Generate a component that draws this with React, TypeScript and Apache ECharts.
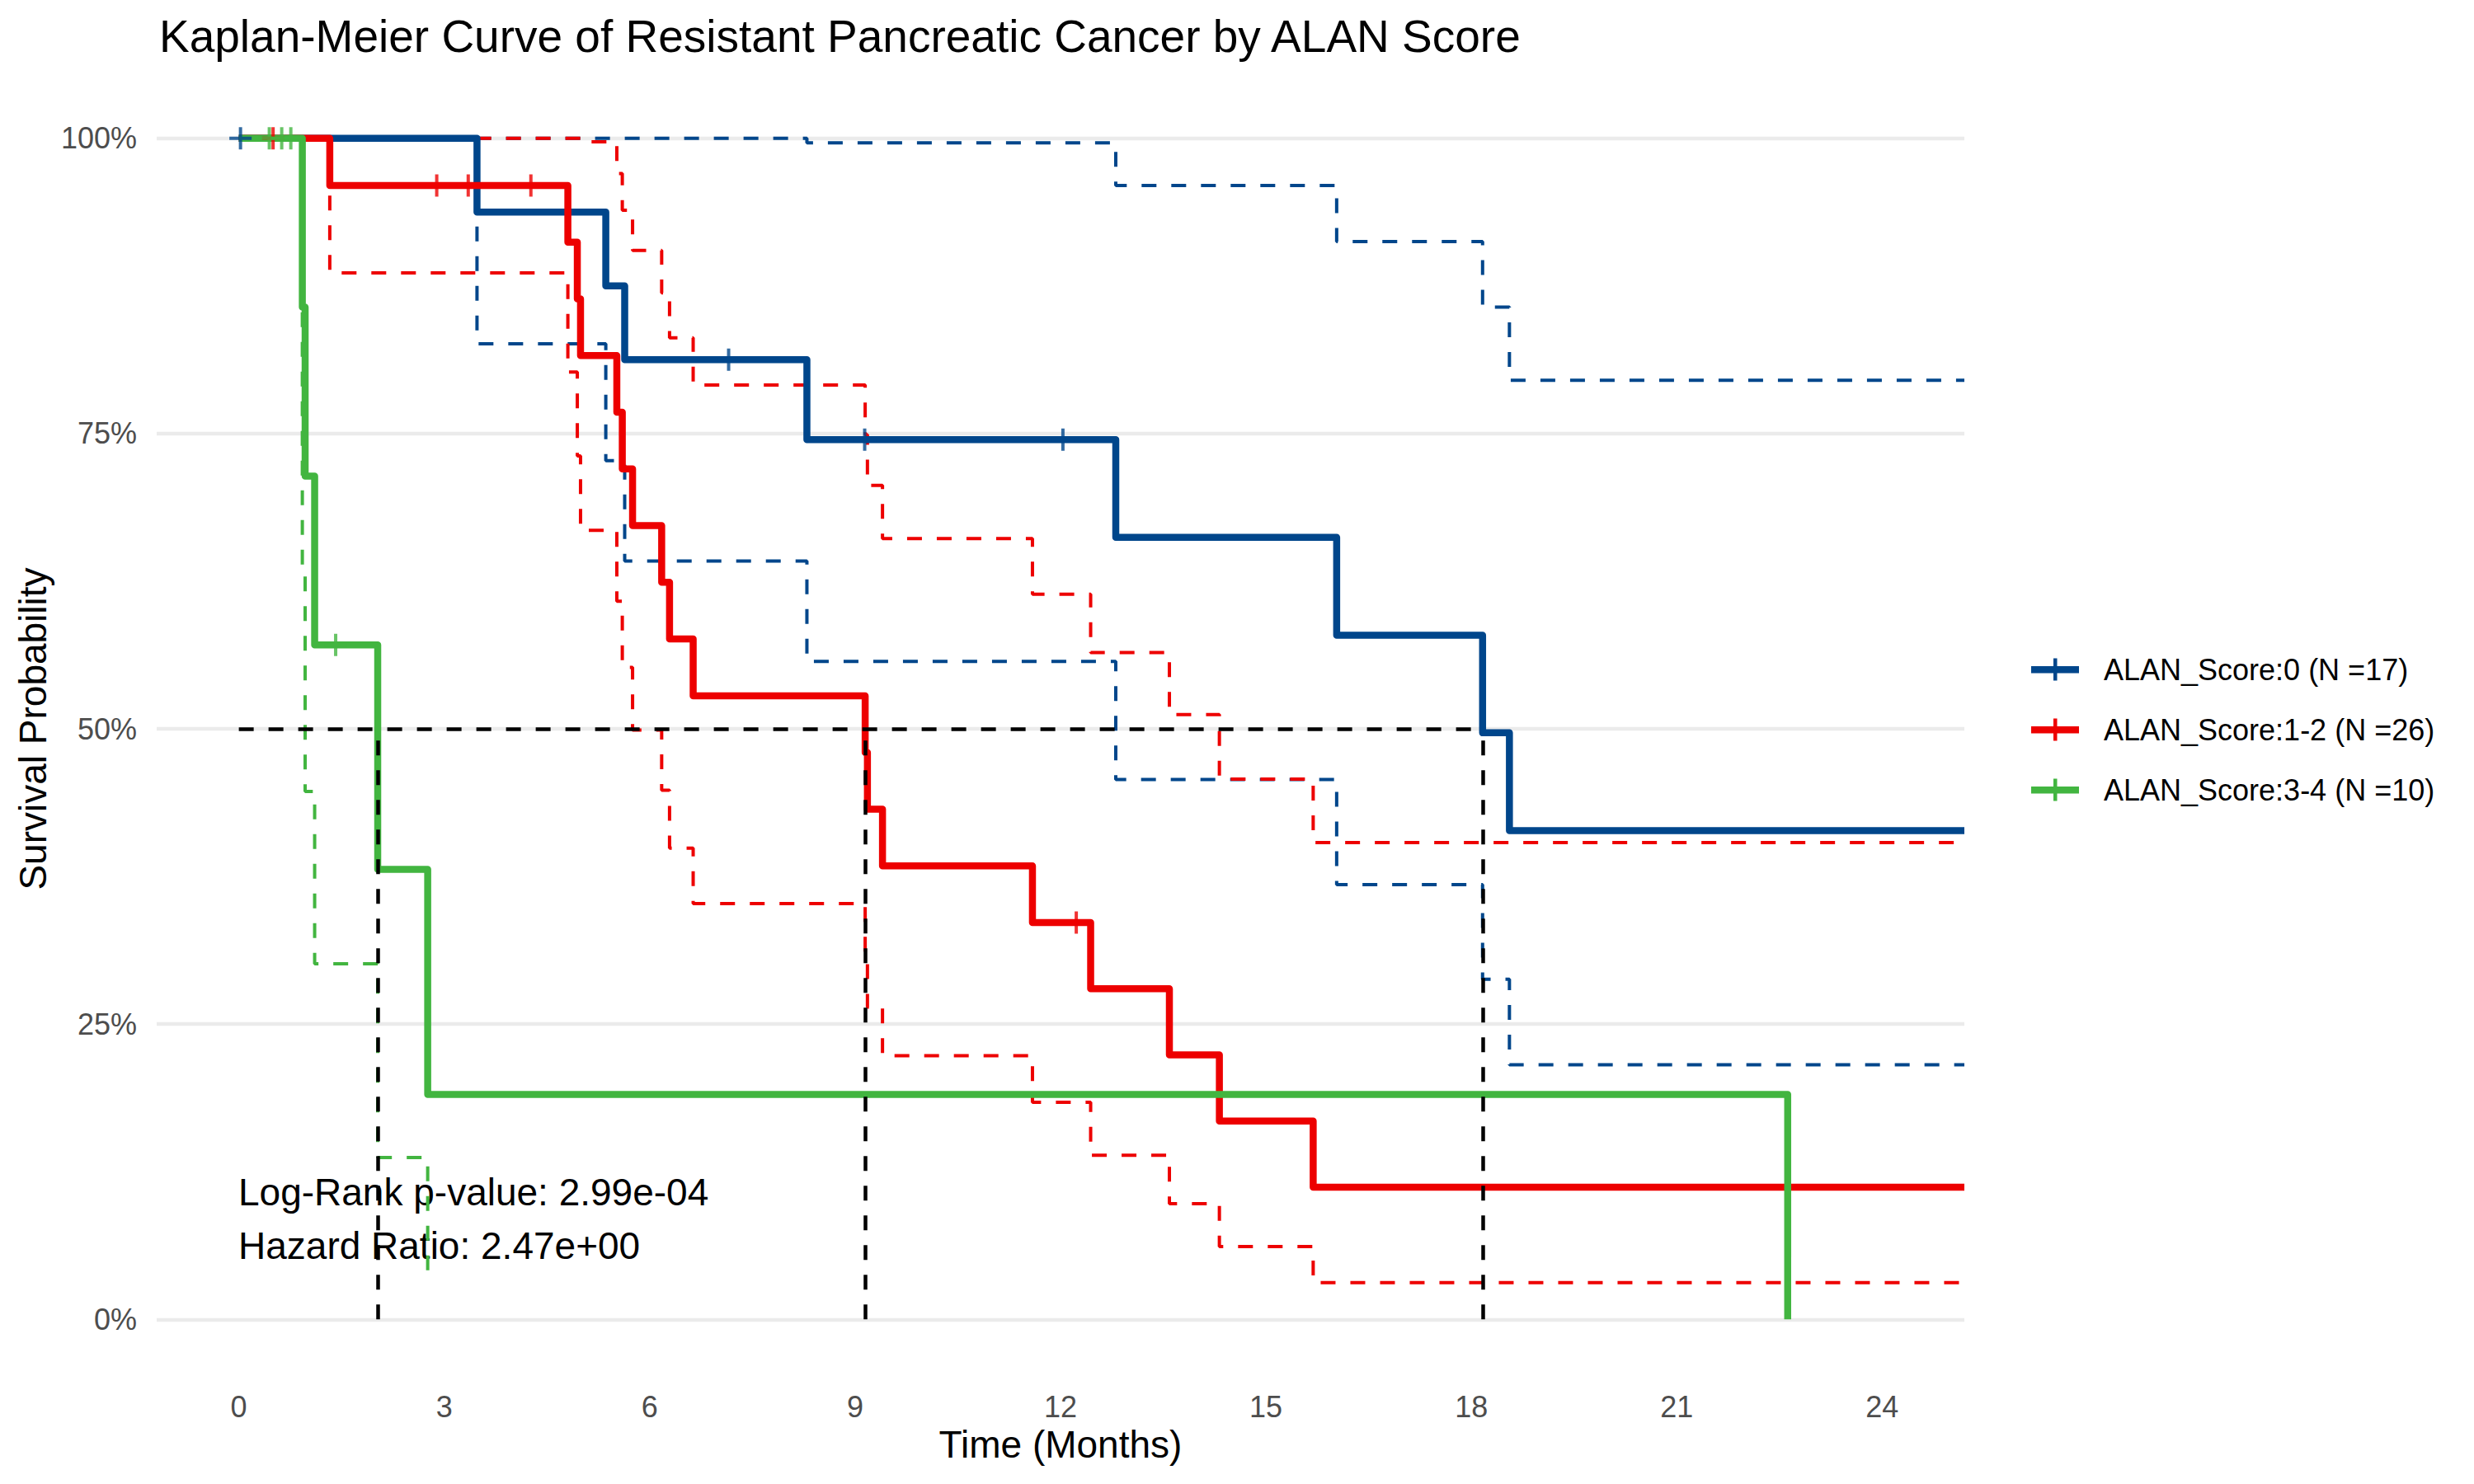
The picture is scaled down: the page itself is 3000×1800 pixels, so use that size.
import React, { useEffect, useRef } from 'react';
import * as echarts from 'echarts';

const FONT = '"Liberation Sans", Arial, Helvetica, sans-serif';

// ---- groups ----
const groupNames = ['ALAN_Score:0 (N =17)', 'ALAN_Score:1-2 (N =26)', 'ALAN_Score:3-4 (N =10)'];
const groupColors = ['#00468B', '#ED0000', '#42B540'];

// ---- ALAN_Score:0 ----
const score0Time = [0, 3.478, 5.359, 5.635, 8.296, 12.807, 16.033, 18.164, 18.556, 25.2];
const score0Surv = [1, 0.9375, 0.875, 0.8125, 0.7448, 0.6621, 0.5793, 0.4966, 0.4138, 0.4138];
const score0Upper = [1, 1, 1, 1, 0.996, 0.96, 0.9125, 0.857, 0.795, 0.795];
const score0Lower = [1, 0.826, 0.727, 0.642, 0.557, 0.457, 0.368, 0.288, 0.2155, 0.2155];
const score0CensorTime = [0.024, 7.153, 9.14, 12.035];
const score0CensorSurv = [1, 0.8125, 0.7448, 0.7448];

// ---- ALAN_Score:1-2 ----
const score12Time = [0, 1.328, 4.805, 4.943, 4.99, 5.52, 5.6, 5.75, 6.175, 6.29, 6.635, 9.147, 9.18, 9.4, 11.59, 12.44, 13.59, 14.32, 15.69, 25.2];
const score12Surv = [1, 0.96, 0.912, 0.864, 0.816, 0.768, 0.72, 0.672, 0.624, 0.576, 0.528, 0.48, 0.432, 0.384, 0.336, 0.28, 0.224, 0.168, 0.112, 0.112];
const score12Upper = [1, 1, 1, 1, 0.997, 0.97, 0.939, 0.905, 0.869, 0.831, 0.791, 0.749, 0.706, 0.661, 0.614, 0.5645, 0.512, 0.4575, 0.4036, 0.4036];
const score12Lower = [1, 0.886, 0.802, 0.731, 0.668, 0.608, 0.552, 0.499, 0.448, 0.399, 0.352, 0.3075, 0.2644, 0.2232, 0.1839, 0.139, 0.098, 0.0617, 0.0311, 0.0311];
const score12CensorTime = [0.5, 2.89, 3.35, 4.265, 12.23];
const score12CensorSurv = [1, 0.96, 0.96, 0.96, 0.336];

// ---- ALAN_Score:3-4 ----
const score34Time = [0, 0.927, 0.968, 1.107, 2.028, 2.758, 22.62];
const score34Surv = [1, 0.857, 0.714, 0.571, 0.381, 0.1905, 0];
const score34CiTime = [0, 0.927, 0.968, 1.107, 2.028, 2.758];
const score34Upper = [1, 1, 1, 1, 1, 1];
const score34Lower = [1, 0.634, 0.447, 0.301, 0.137, 0.034];
const score34CensorTime = [0.445, 0.626, 0.759, 1.414];
const score34CensorSurv = [1, 1, 1, 0.571];

// ---- medians / ticks / text ----
const medianTimes = [2.028, 9.147, 18.164];
const medianSurv = 0.5;
const xTickValues = [0, 3, 6, 9, 12, 15, 18, 21, 24];
const yTickValues = [0, 0.25, 0.5, 0.75, 1];
const statLines = ['Log-Rank p-value: 2.99e-04', 'Hazard Ratio: 2.47e+00'];
const titleText = 'Kaplan-Meier Curve of Resistant Pancreatic Cancer by ALAN Score';
const xAxisTitle = 'Time (Months)';
const yAxisTitle = 'Survival Probability';

const zip = (a: number[], b: number[]) => a.map((v, i) => [v, b[i]]);

const CENSOR_PATH = 'path://M11.5,0h4v27h-4zM0,11.5h27v4h-27z';
const LEGEND_ICON = 'path://M0,9.5h58v8.5h-58zM27,0h4.5v27h-4.5z';

export default function App() {
  const ref = useRef<HTMLDivElement>(null);

  useEffect(() => {
    if (!ref.current) return;
    const chart = echarts.init(ref.current, undefined, { renderer: 'svg' });

    const groups = [
      { name: groupNames[0], color: groupColors[0], time: score0Time, surv: score0Surv, ciTime: score0Time, upper: score0Upper, lower: score0Lower, cTime: score0CensorTime, cSurv: score0CensorSurv },
      { name: groupNames[1], color: groupColors[1], time: score12Time, surv: score12Surv, ciTime: score12Time, upper: score12Upper, lower: score12Lower, cTime: score12CensorTime, cSurv: score12CensorSurv },
      { name: groupNames[2], color: groupColors[2], time: score34Time, surv: score34Surv, ciTime: score34CiTime, upper: score34Upper, lower: score34Lower, cTime: score34CensorTime, cSurv: score34CensorSurv },
    ];

    const series: any[] = [];
    // gridlines (drawn beneath everything)
    series.push({
      type: 'line',
      name: '__grid',
      data: [],
      z: 1,
      silent: true,
      markLine: {
        z: 1,
        silent: true,
        symbol: ['none', 'none'],
        label: { show: false },
        lineStyle: { color: '#EBEBEB', width: 4.3, type: 'solid' },
        data: yTickValues.map((v) => ({ yAxis: v })),
      },
    });

    groups.forEach((g) => {
      ['upper', 'lower'].forEach((k) => {
        series.push({
          type: 'line',
          name: `${g.name} ${k}`,
          data: zip(g.ciTime, (g as any)[k]),
          step: 'end',
          symbol: 'none',
          silent: true,
          z: 2,
          lineStyle: { color: g.color, width: 4, type: [18, 18] },
          itemStyle: { color: g.color },
        });
      });
    });

    groups.forEach((g) => {
      series.push({
        type: 'line',
        name: g.name,
        data: zip(g.time, g.surv),
        step: 'end',
        symbol: 'none',
        z: 3,
        lineStyle: { color: g.color, width: 8.5, join: 'round' },
        itemStyle: { color: g.color },
      });
    });

    groups.forEach((g) => {
      series.push({
        type: 'scatter',
        name: `${g.name} censor`,
        data: zip(g.cTime, g.cSurv),
        symbol: CENSOR_PATH,
        symbolSize: 27,
        silent: true,
        z: 4,
        itemStyle: { color: g.color },
      });
    });

    const maxMedian = Math.max(...medianTimes);
    series.push({
      type: 'line',
      name: '__median',
      data: [],
      z: 6,
      silent: true,
      markLine: {
        z: 6,
        silent: true,
        symbol: ['none', 'none'],
        label: { show: false },
        lineStyle: { color: '#000000', width: 4.5, type: [18, 18] },
        data: [
          [{ coord: [0, medianSurv] }, { coord: [maxMedian, medianSurv] }],
          ...medianTimes.map((t) => [{ coord: [t, 0] }, { coord: [t, medianSurv] }]),
        ],
      },
    });

    const option: any = {
      animation: false,
      backgroundColor: '#ffffff',
      textStyle: { fontFamily: FONT },
      title: {
        text: titleText,
        left: 188,
        top: 11,
        textStyle: { fontSize: 55, fontWeight: 'normal', color: '#000000', fontFamily: FONT },
      },
      grid: { left: 190, top: 96, width: 2192, height: 1576, containLabel: false },
      xAxis: {
        type: 'value',
        min: -1.2,
        max: 25.2,
        interval: 0.6,
        name: xAxisTitle,
        nameLocation: 'middle',
        nameGap: 54,
        nameTextStyle: { fontSize: 46, color: '#000000', fontFamily: FONT },
        axisLine: { show: false, onZero: false },
        axisTick: { show: false },
        splitLine: { show: false },
        axisLabel: {
          fontSize: 36,
          color: '#4D4D4D',
          margin: 16,
          fontFamily: FONT,
          formatter: (v: number) => {
            const hit = xTickValues.find((t) => Math.abs(t - v) < 1e-6);
            return hit === undefined ? '' : String(hit);
          },
        },
      },
      yAxis: {
        type: 'value',
        min: -0.05,
        max: 1.05,
        interval: 0.05,
        name: yAxisTitle,
        nameLocation: 'middle',
        nameGap: 125,
        nameTextStyle: { fontSize: 46, color: '#000000', fontFamily: FONT },
        axisLine: { show: false, onZero: false },
        axisTick: { show: false },
        splitLine: { show: false },
        axisLabel: {
          fontSize: 36,
          color: '#4D4D4D',
          margin: 24,
          fontFamily: FONT,
          formatter: (v: number) => {
            const hit = yTickValues.find((t) => Math.abs(t - v) < 1e-6);
            return hit === undefined ? '' : `${Math.round(hit * 100)}%`;
          },
        },
      },
      legend: {
        orient: 'vertical',
        left: 2458,
        top: 789,
        itemWidth: 58,
        itemHeight: 27,
        itemGap: 37,
        selectedMode: false,
        itemStyle: { borderWidth: 0 },
        data: groupNames.map((n) => ({ name: n, icon: LEGEND_ICON })),
        textStyle: { fontSize: 36, color: '#000000', fontFamily: FONT, padding: [0, 0, 0, 25], lineHeight: 27 },
      },
      graphic: statLines.map((s, i) => ({
        type: 'text',
        x: 289,
        y: 1446 + i * 65,
        silent: true,
        style: {
          text: s,
          fontSize: 46,
          fontFamily: FONT,
          fill: '#000000',
          align: 'left',
          verticalAlign: 'middle',
        },
      })),
      series,
    };

    chart.setOption(option);
    return () => chart.dispose();
  }, []);

  return <div ref={ref} style={{ position: 'absolute', left: 0, top: 0, width: 3000, height: 1800 }} />;
}
